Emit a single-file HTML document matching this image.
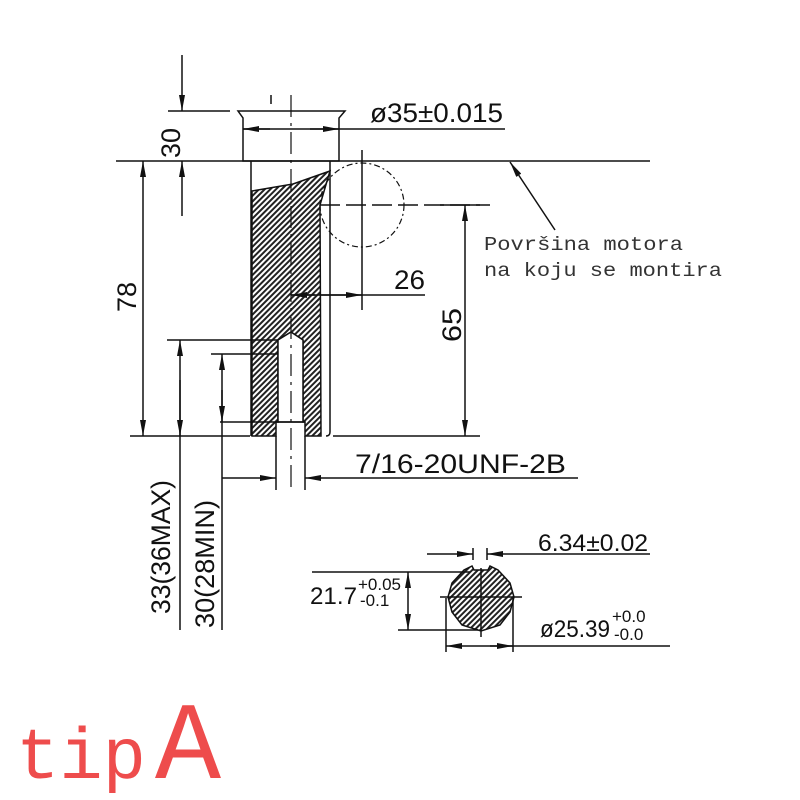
<!DOCTYPE html>
<html><head><meta charset="utf-8"><style>
html,body{margin:0;padding:0;background:#fff;}
svg{display:block}
.t{font-family:"Liberation Sans",sans-serif;fill:#111;}
</style></head><body>
<svg width="800" height="800" viewBox="0 0 800 800" xmlns="http://www.w3.org/2000/svg">
<defs>
<pattern id="h" patternUnits="userSpaceOnUse" width="4" height="4" patternTransform="rotate(45)">
<rect width="4" height="4" fill="#fff"/><rect width="2" height="4" fill="#222"/>
</pattern>
<marker id="a" viewBox="0 0 16 6" refX="16" refY="3" markerWidth="16" markerHeight="6" orient="auto-start-reverse" markerUnits="userSpaceOnUse"><path d="M0,0L16,3L0,6z" fill="#111"/></marker>
</defs>
<g stroke="#111" stroke-width="1.5" fill="none">
<path d="M238,111 L345,111 L339,118 L339,161 L243,161 L243,118 Z"/>
<line x1="116" y1="161" x2="650" y2="161"/>
<line x1="168" y1="111" x2="230" y2="111"/>
<path d="M251,161 L251,436 M330,161 L330,432 Q330,436 326,436"/>
<path d="M252,191 L293,184 L330,171 L320,205 L321,436 L305,436 L305,422 L303,422 L303,340 L291,332 L278,340 L278,422 L276,422 L276,436 L252,436 Z" fill="url(#h)" stroke="#111"/>
<path d="M278,340 L291,332 L303,340 L303,422 L278,422 Z" fill="#fff"/>
<line x1="276" y1="422" x2="305" y2="422"/>
<line x1="291" y1="95" x2="291" y2="492" stroke-dasharray="22,6,3,6" stroke-width="1.2"/>
<line x1="271" y1="95" x2="271" y2="104"/>
<circle cx="362" cy="205" r="42" stroke-dasharray="6,3,2,3" stroke-width="1.2"/>
<line x1="362" y1="150" x2="362" y2="310"/>
<line x1="320" y1="205" x2="480" y2="205" stroke-dasharray="20,6"/>
<line x1="130" y1="436" x2="250" y2="436"/>
<line x1="333" y1="436" x2="480" y2="436"/>
<line x1="167" y1="340" x2="278" y2="340"/>
<line x1="211" y1="354" x2="278" y2="354"/>
<line x1="220" y1="422" x2="276" y2="422"/>
<line x1="182" y1="55" x2="182" y2="111" marker-end="url(#a)"/>
<line x1="182" y1="216" x2="182" y2="161" marker-end="url(#a)"/>
<line x1="143" y1="161" x2="143" y2="436" marker-start="url(#a)" marker-end="url(#a)"/>
<line x1="180" y1="630" x2="180" y2="340" marker-end="url(#a)"/>
<line x1="180" y1="380" x2="180" y2="436" marker-end="url(#a)"/>
<line x1="222" y1="630" x2="222" y2="354" marker-end="url(#a)"/>
<line x1="222" y1="390" x2="222" y2="422" marker-end="url(#a)"/>
<line x1="243" y1="129" x2="505" y2="129" />
<line x1="270" y1="129" x2="243" y2="129" marker-end="url(#a)"/>
<line x1="310" y1="129" x2="339" y2="129" marker-end="url(#a)"/>
<line x1="425" y1="295" x2="291" y2="295"/>
<line x1="320" y1="295" x2="362" y2="295" marker-end="url(#a)"/>
<line x1="315" y1="295" x2="291" y2="295" marker-end="url(#a)"/>
<line x1="440" y1="205" x2="490" y2="205"/>
<line x1="465" y1="205" x2="465" y2="436" marker-start="url(#a)" marker-end="url(#a)"/>
<line x1="276" y1="436" x2="276" y2="490"/>
<line x1="305" y1="436" x2="305" y2="490"/>
<line x1="222" y1="478" x2="276" y2="478" marker-end="url(#a)"/>
<line x1="578" y1="478" x2="305" y2="478" marker-end="url(#a)"/>
<line x1="555" y1="230" x2="510" y2="162" marker-end="url(#a)"/>
<path d="M472,566 L464,570 L452,583 L448,597 L452,612 L462,625 L481,631 L500,625 L510,612 L514,597 L510,583 L498,570 L490,566 L488,570 L474,570 Z" fill="url(#h)" stroke="#111"/>
<line x1="440" y1="597" x2="522" y2="597"/>
<line x1="481" y1="568" x2="481" y2="637"/>
<line x1="312" y1="572" x2="470" y2="572"/>
<line x1="398" y1="630" x2="478" y2="630"/>
<line x1="408" y1="572" x2="408" y2="630" marker-start="url(#a)" marker-end="url(#a)"/>
<line x1="446" y1="598" x2="446" y2="652"/>
<line x1="513" y1="598" x2="513" y2="652"/>
<line x1="446" y1="646" x2="670" y2="646" marker-start="url(#a)"/>
<line x1="490" y1="646" x2="513" y2="646" marker-end="url(#a)"/>
<line x1="473" y1="548" x2="473" y2="560"/>
<line x1="487" y1="548" x2="487" y2="560"/>
<line x1="427" y1="554" x2="473" y2="554" marker-end="url(#a)"/>
<line x1="650" y1="554" x2="487" y2="554" marker-end="url(#a)"/>
</g>
<g class="t">
<text x="370" y="122" font-size="27" textLength="133" lengthAdjust="spacingAndGlyphs">ø35±0.015</text>
<text x="394" y="289" font-size="27" textLength="31" lengthAdjust="spacingAndGlyphs">26</text>
<text x="355" y="473" font-size="27" textLength="211" lengthAdjust="spacingAndGlyphs">7/16-20UNF-2B</text>
<text transform="translate(180,158) rotate(-90)" font-size="27" textLength="30" lengthAdjust="spacingAndGlyphs">30</text>
<text transform="translate(136,312) rotate(-90)" font-size="27" textLength="30" lengthAdjust="spacingAndGlyphs">78</text>
<text transform="translate(461,342) rotate(-90)" font-size="27" textLength="34" lengthAdjust="spacingAndGlyphs">65</text>
<text transform="translate(170,614) rotate(-90)" font-size="27" textLength="134" lengthAdjust="spacingAndGlyphs">33(36MAX)</text>
<text transform="translate(214,628) rotate(-90)" font-size="27" textLength="128" lengthAdjust="spacingAndGlyphs">30(28MIN)</text>
<text x="538" y="551" font-size="24" textLength="110" lengthAdjust="spacingAndGlyphs">6.34±0.02</text>
<text x="310" y="604" font-size="24" textLength="47" lengthAdjust="spacingAndGlyphs">21.7</text>
<text x="358" y="590" font-size="17">+0.05</text>
<text x="360" y="606" font-size="17">-0.1</text>
<text x="540" y="637" font-size="24" textLength="70" lengthAdjust="spacingAndGlyphs">ø25.39</text>
<text x="612" y="622" font-size="17">+0.0</text>
<text x="614" y="640" font-size="17">-0.0</text>
</g>
<g font-family="Liberation Mono,monospace" fill="#333" font-size="19">
<text x="484" y="250" textLength="199" lengthAdjust="spacingAndGlyphs">Površina motora</text>
<text x="484" y="276" textLength="238" lengthAdjust="spacingAndGlyphs">na koju se montira</text>
</g>
<text x="16" y="778" font-family="Liberation Mono,monospace" font-size="72" fill="#ee4c4c" textLength="130" lengthAdjust="spacingAndGlyphs">tip</text>
<text x="155" y="778" font-family="Liberation Mono,monospace" font-size="110" fill="#ee4c4c">A</text>
</svg>
</body></html>
